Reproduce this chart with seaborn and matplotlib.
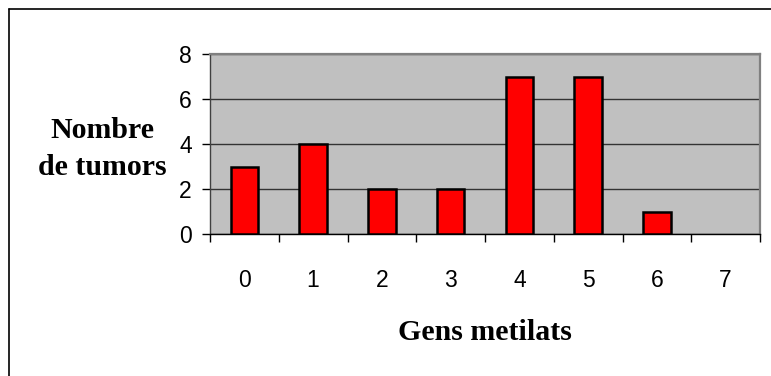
import matplotlib
matplotlib.use("Agg")
import matplotlib.pyplot as plt
from matplotlib.lines import Line2D
from matplotlib.transforms import ScaledTranslation
import seaborn as sns
import pandas as pd

# Number of tumours by count of methylated genes
gens_metilats = [0, 1, 2, 3, 4, 5, 6, 7]
nombre_tumors = [3, 4, 2, 2, 7, 7, 1, 0]
y_ticks = [0, 2, 4, 6, 8]

df = pd.DataFrame({"gens": [str(g) for g in gens_metilats], "tumors": nombre_tumors})

sns.set_theme(style="white")
plt.rcParams["font.family"] = ["Liberation Sans", "DejaVu Sans"]
plt.rcParams["text.color"] = "black"

W, H = 771, 376
fig = plt.figure(figsize=(W / 100, H / 100), dpi=100)
ax = fig.add_axes([210 / W, 1 - 234 / H, 550 / W, 180 / H])
ax.set_facecolor("#C0C0C0")
ax.set_axisbelow(True)

sns.barplot(data=df, x="gens", y="tumors", order=[str(g) for g in gens_metilats],
            color="#FF0000", saturation=1, width=0.4, edgecolor="black",
            linewidth=1.8, ax=ax, zorder=3)
# an empty category gets no outline
for bar in ax.patches:
    if bar.get_height() == 0:
        bar.set_linewidth(0)

ax.set_xlim(-0.5, len(gens_metilats) - 0.5)
ax.set_ylim(0, 8)
ax.set_yticks(y_ticks)
ax.set_yticklabels([str(v) for v in y_ticks], fontsize=16.5, color="black")
ax.yaxis.grid(True, color="#333333", linewidth=1.0)
ax.xaxis.grid(False)

# y labels sit slightly below their gridlines
shift = ScaledTranslation(0, -3 / 72, fig.dpi_scale_trans)
for lbl in ax.get_yticklabels():
    lbl.set_transform(lbl.get_transform() + shift)

# x labels centred on bars, tick marks on category boundaries
ax.set_xticks(range(len(gens_metilats)))
ax.set_xticklabels([str(g) for g in gens_metilats], fontsize=16.5, color="black")
ax.set_xticks([i - 0.5 for i in range(len(gens_metilats) + 1)], minor=True)
ax.tick_params(axis="x", which="major", length=0, pad=25, colors="black")
ax.tick_params(axis="x", which="minor", bottom=True, length=6, width=1.0, color="black", direction="out")
ax.tick_params(axis="y", which="major", left=True, length=6, width=1.0, color="black",
               direction="out", pad=7, labelcolor="black")

for side in ("top", "right"):
    ax.spines[side].set_visible(True)
    ax.spines[side].set_color("#808080")
    ax.spines[side].set_linewidth(1.6)
ax.spines["left"].set_color("#404040")
ax.spines["left"].set_linewidth(1.0)
ax.spines["bottom"].set_color("black")
ax.spines["bottom"].set_linewidth(1.0)

ax.set_xlabel("")
ax.set_ylabel("")

serif = ["Liberation Serif", "DejaVu Serif"]
fig.text(485 / W, 1 - 333 / H, "Gens metilats", ha="center", va="center",
         fontsize=21.5, fontweight="bold", family=serif, color="black")
fig.text(102 / W, 1 - 149 / H, "Nombre\nde tumors", ha="center", va="center",
         fontsize=21.5, fontweight="bold", family=serif, linespacing=1.45, color="black")

# outer chart frame (left and top edges)
fig.add_artist(Line2D([8.5 / W, 8.5 / W], [0, 1 - 8.5 / H], transform=fig.transFigure,
                      color="black", linewidth=1.2))
fig.add_artist(Line2D([8.5 / W, 1], [1 - 8.5 / H, 1 - 8.5 / H], transform=fig.transFigure,
                      color="black", linewidth=1.2))

fig.savefig("out.png", dpi=100, facecolor="white")
